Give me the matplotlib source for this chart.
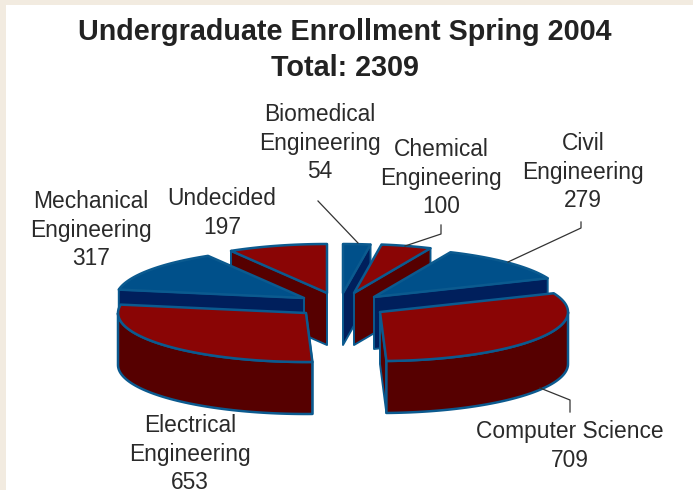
import matplotlib
matplotlib.use('Agg')
import matplotlib.pyplot as plt
from matplotlib.patches import Polygon, Rectangle
import numpy as np

plt.rcParams['font.family'] = ['Liberation Sans', 'DejaVu Sans']

categories = ['Biomedical\nEngineering', 'Chemical\nEngineering', 'Civil\nEngineering',
              'Computer Science', 'Electrical\nEngineering', 'Mechanical\nEngineering', 'Undecided']
enrollment = [54, 100, 279, 709, 653, 317, 197]
title = 'Undergraduate Enrollment Spring 2004\nTotal: 2309'

# layout, all in pixels of the 693x490 picture
apex = [(343, 293), (354, 293), (374, 297), (380, 312), (306, 313), (304, 298), (327, 293)]
label_pos = [(320, 143), (441, 178), (583, 172), (570, 446), (190, 454), (91, 230), (222, 213)]
leaders = [[(318, 201), (358, 243)],
           [(441, 225), (441, 234), (405, 246)],
           [(581, 222), (581, 228), (508, 262)],
           [(570, 412), (570, 400), (540, 388)]]
rx, ry, depth = 188, 49, 52

edge = '#0b5a8f'
top_col = ['#00508a', '#8a0505', '#00508a', '#8a0505', '#8a0505', '#00508a', '#8a0505']
side_col = ['#001f5c', '#560000', '#001f5c', '#560000', '#560000', '#001f5c', '#560000']

fig = plt.figure(figsize=(6.93, 4.90), dpi=100, facecolor='white')
ax = fig.add_axes([0, 0, 1, 1])
ax.set_xlim(0, 693)
ax.set_ylim(490, 0)
ax.axis('off')

# beige frame at top and left
ax.add_patch(Rectangle((0, 0), 693, 5, color='#f2ebe0', lw=0))
ax.add_patch(Rectangle((0, 0), 6, 490, color='#f2ebe0', lw=0))

# clockwise from 12 o'clock
bounds = np.concatenate([[0], np.cumsum(enrollment)]) / sum(enrollment) * 2 * np.pi


def rim(cx, cy, a0, a1, drop=0):
    t = np.linspace(a0, a1, 60)
    return np.column_stack([cx + rx * np.sin(t), cy - ry * np.cos(t) + drop])


def draw_wedge(i):
    a0, a1 = bounds[i], bounds[i + 1]
    cx, cy = apex[i]
    mid = (a0 + a1) / 2
    # radial wall facing the viewer
    a = a1 if mid < np.pi else a0
    end = rim(cx, cy, a, a, 0)[0]
    wall = [(cx, cy), end, (end[0], end[1] + depth), (cx, cy + depth)]
    ax.add_patch(Polygon(wall, fc=side_col[i], ec=edge, lw=1.4, joinstyle='round'))
    # front of the rim
    f0, f1 = max(a0, np.pi / 2), min(a1, 3 * np.pi / 2)
    if f0 < f1:
        front = np.vstack([rim(cx, cy, f0, f1), rim(cx, cy, f0, f1, depth)[::-1]])
        ax.add_patch(Polygon(front, fc=side_col[i], ec=edge, lw=1.8, joinstyle='round'))
    top = np.vstack([[(cx, cy)], rim(cx, cy, a0, a1)])
    ax.add_patch(Polygon(top, fc=top_col[i], ec=edge, lw=1.8, joinstyle='round'))


for i in [0, 1, 2, 3, 6, 5, 4]:
    draw_wedge(i)

for pts in leaders:
    ax.plot(*zip(*pts), color='#333333', lw=0.9)

for name, val, pos in zip(categories, enrollment, label_pos):
    ax.text(pos[0], pos[1], f'{name}\n{val}', ha='center', va='center', fontsize=16.4,
            color='#2a2a2a', linespacing=1.33)

ax.text(345, 50, title, ha='center', va='center', fontsize=20.7, fontweight='bold',
        color='#222222', linespacing=1.32)

fig.savefig('out.png', dpi=100)
